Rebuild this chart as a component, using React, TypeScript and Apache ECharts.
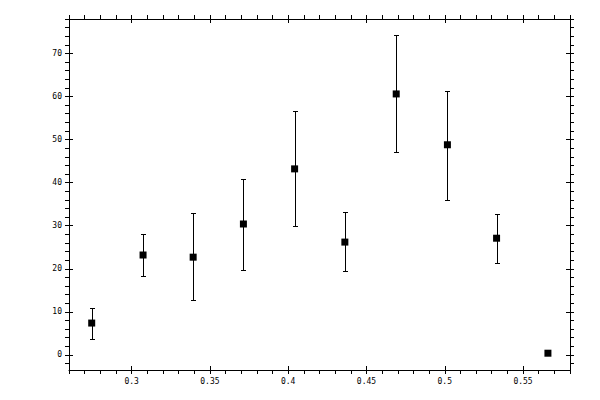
import { ReactElement, useEffect, useRef } from "react";
import * as echarts from "echarts";

// Measured points (x position, value, lower and upper error bounds)
const xValues = [0.2745, 0.3073, 0.3393, 0.3714, 0.4041, 0.4362, 0.469, 0.5017, 0.5331, 0.5659];
const yValues = [7.4, 23.2, 22.7, 30.4, 43.2, 26.2, 60.6, 48.8, 27.1, 0.4];
const yLow = [3.7, 18.3, 12.7, 19.7, 29.9, 19.5, 47.1, 36.0, 21.3, 0.4];
const yHigh = [10.9, 28.1, 33.0, 40.9, 56.7, 33.2, 74.3, 61.3, 32.8, 0.4];

// Axis ranges and labelled ticks
const X_MIN = 0.26;
const X_MAX = 0.58;
const Y_MIN = -3.5;
const Y_MAX = 78;
const xLabels = [0.3, 0.35, 0.4, 0.45, 0.5, 0.55];
const yLabels = [0, 10, 20, 30, 40, 50, 60, 70];
const X_MINOR_STEP = 0.01;
const Y_MINOR_STEP = 2;

const FONT = "DejaVu Sans Mono";
const INK = "#000";

function stepTicks(min: number, max: number, step: number, digits: number): number[] {
    const out: number[] = [];
    const start = Math.ceil(min / step - 1e-9);
    const end = Math.floor(max / step + 1e-9);
    for (let i = start; i <= end; i++) out.push(+(i * step).toFixed(digits));
    return out;
}

const xTicks = stepTicks(X_MIN, X_MAX, X_MINOR_STEP, 2);
const yTicks = stepTicks(Y_MIN, Y_MAX, Y_MINOR_STEP, 0);

const fmt = (v: number) => String(+v.toFixed(2));

function xAxisDef(gridIndex: number, position: "top" | "bottom", inside: boolean, labels: boolean) {
    return {
        type: "value" as const,
        gridIndex,
        position,
        min: X_MIN,
        max: X_MAX,
        axisLine: { show: !inside, onZero: false, lineStyle: { color: INK, width: 1 } },
        axisTick: {
            show: true,
            inside,
            length: 4,
            customValues: inside ? xLabels : xTicks,
            lineStyle: { color: INK, width: 1 }
        },
        axisLabel: {
            show: labels,
            customValues: xLabels,
            formatter: fmt,
            margin: 7,
            color: INK,
            fontFamily: FONT,
            fontSize: 8
        },
        splitLine: { show: false }
    };
}

function yAxisDef(gridIndex: number, position: "left" | "right", inside: boolean, labels: boolean) {
    return {
        type: "value" as const,
        gridIndex,
        position,
        min: Y_MIN,
        max: Y_MAX,
        axisLine: { show: !inside, onZero: false, lineStyle: { color: INK, width: 1 } },
        axisTick: {
            show: true,
            inside,
            length: 4,
            customValues: inside ? yLabels : yTicks,
            lineStyle: { color: INK, width: 1 }
        },
        axisLabel: {
            show: labels,
            customValues: yLabels,
            formatter: fmt,
            margin: 7,
            color: INK,
            fontFamily: FONT,
            fontSize: 8
        },
        splitLine: { show: false }
    };
}

function buildOption(): echarts.EChartsOption {
    const gridBox = { left: 69, right: 30, top: 19, bottom: 30, outerBoundsMode: "none" };
    const points = xValues.map((x, i) => [x, yValues[i]]);
    const bars = xValues.map((x, i) => [x, yLow[i], yHigh[i]]);

    return {
        animation: false,
        backgroundColor: "#fff",
        grid: [{ ...gridBox }, { ...gridBox }] as any,
        xAxis: [
            xAxisDef(0, "bottom", false, true),
            xAxisDef(0, "top", false, false),
            xAxisDef(1, "bottom", true, false),
            xAxisDef(1, "top", true, false)
        ],
        yAxis: [
            yAxisDef(0, "left", false, true),
            yAxisDef(0, "right", false, false),
            yAxisDef(1, "left", true, false),
            yAxisDef(1, "right", true, false)
        ],
        series: [
            {
                type: "custom",
                xAxisIndex: 0,
                yAxisIndex: 0,
                z: 2,
                data: bars,
                renderItem: (_params: any, api: any) => {
                    const x = api.value(0);
                    const lo = api.coord([x, api.value(1)]);
                    const hi = api.coord([x, api.value(2)]);
                    const cx = Math.round(lo[0]) + 0.5;
                    const y1 = Math.round(lo[1]) + 0.5;
                    const y2 = Math.round(hi[1]) + 0.5;
                    const style = { stroke: INK, lineWidth: 1 };
                    return {
                        type: "group",
                        children: [
                            { type: "line", shape: { x1: cx, y1, x2: cx, y2 }, style },
                            { type: "line", shape: { x1: cx - 2.5, y1, x2: cx + 2.5, y2: y1 }, style },
                            { type: "line", shape: { x1: cx - 2.5, y1: y2, x2: cx + 2.5, y2 }, style }
                        ]
                    };
                }
            },
            {
                type: "scatter",
                xAxisIndex: 0,
                yAxisIndex: 0,
                z: 3,
                symbol: "rect",
                symbolSize: 7,
                itemStyle: { color: INK, opacity: 1 },
                data: points
            }
        ]
    } as echarts.EChartsOption;
}

export default function App(): ReactElement {
    const ref = useRef<HTMLDivElement>(null);

    useEffect(() => {
        if (!ref.current) return;
        const chart = echarts.init(ref.current, undefined, { renderer: "svg" });
        chart.setOption(buildOption());
        return () => chart.dispose();
    }, []);

    return (
        <div
            ref={ref}
            style={{ position: "absolute", left: 0, top: 0, width: 600, height: 400, background: "#fff" }}
        />
    );
}
